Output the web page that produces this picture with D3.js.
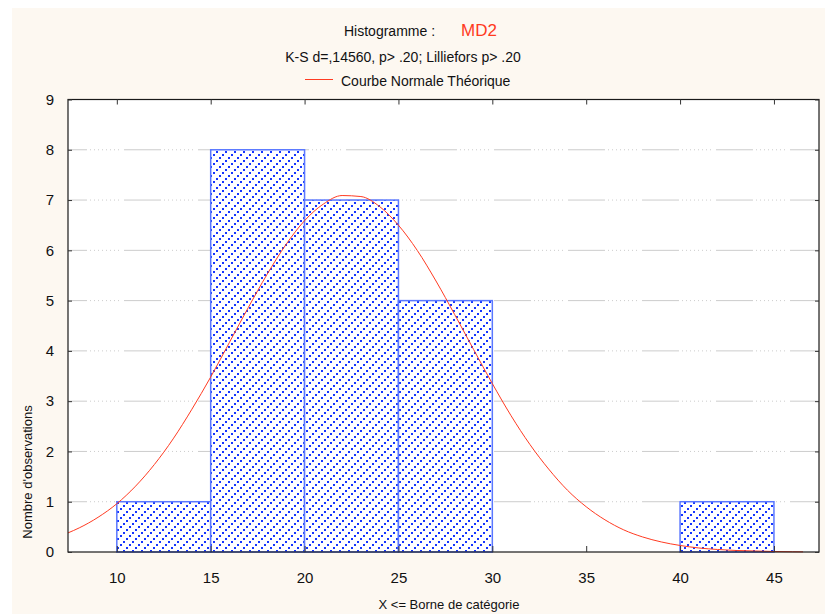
<!DOCTYPE html>
<html><head><meta charset="utf-8">
<script src="https://cdn.jsdelivr.net/npm/d3@7/dist/d3.min.js"></script>
<style>body{margin:0;background:#fff}svg{display:block}text{font-family:"Liberation Sans",Arial,sans-serif;fill:#111}</style>
</head><body>
<script>
// Histogram data
const binStarts = [10, 15, 20, 25, 30, 35, 40];
const binWidth = 5;
const counts = [1, 8, 7, 5, 0, 0, 1];
const xTicks = [10, 15, 20, 25, 30, 35, 40, 45];
const yTicks = [0, 1, 2, 3, 4, 5, 6, 7, 8, 9];
// Theoretical normal curve
const curveX = [7.4, 8, 9, 10, 11, 12, 13, 14, 15, 16, 17, 18, 19, 20, 21, 22, 23, 24, 25, 26, 27, 28, 29, 30, 31, 32, 33, 34, 35, 36, 37, 38, 39, 40, 41, 42, 43, 44, 45, 46, 46.55];
const curveY = [0.38, 0.48, 0.69, 0.96, 1.31, 1.74, 2.25, 2.84, 3.48, 4.17, 4.86, 5.52, 6.11, 6.59, 6.92, 7.09, 7.07, 6.87, 6.50, 6.00, 5.39, 4.72, 4.03, 3.35, 2.71, 2.14, 1.65, 1.23, 0.90, 0.64, 0.44, 0.30, 0.20, 0.13, 0.08, 0.05, 0.03, 0.02, 0.01, 0.005, 0.003];

const W = 825, H = 614;
const L = 68, R = 819, T = 99.5, B = 552;
const svg = d3.select("body").append("svg").attr("width", W).attr("height", H);

svg.append("rect").attr("x", 12).attr("y", 8).attr("width", W - 12).attr("height", H - 8).attr("fill", "#fdf8f1");

const defs = svg.append("defs");
const pat = defs.append("pattern").attr("id", "hatch").attr("patternUnits", "userSpaceOnUse")
  .attr("width", 9).attr("height", 9);
pat.append("rect").attr("width", 9).attr("height", 9).attr("fill", "#fff");
[[0, 7], [3, 4], [6, 1]].forEach(([px, py]) => pat.append("rect").attr("x", px).attr("y", py).attr("width", 2).attr("height", 2).attr("fill", "#1535ff"));

const x = d3.scaleLinear().domain([7.4, 47.4]).range([L, R]);
const y = d3.scaleLinear().domain([0, 9]).range([B, T]);

svg.append("rect").attr("x", L).attr("y", T).attr("width", R - L).attr("height", B - T).attr("fill", "#fff");

// grid lines
svg.append("g").selectAll("line").data(yTicks.filter(d => d > 0 && d < 9)).join("line")
  .attr("x1", L).attr("x2", R).attr("y1", d => y(d)).attr("y2", d => y(d))
  .attr("stroke", "#cccccc").attr("stroke-width", 1)
  .attr("stroke-dasharray", "37,3,1,3,1,3,1,3,1,3,1,3,1,3,1,3,1,5")
  .attr("stroke-dashoffset", 18);

// bars
svg.append("g").selectAll("rect").data(binStarts.map((s, i) => ({ s, c: counts[i] })).filter(d => d.c > 0)).join("rect")
  .attr("x", d => x(d.s)).attr("width", d => x(d.s + binWidth) - x(d.s))
  .attr("y", d => y(d.c)).attr("height", d => y(0) - y(d.c))
  .attr("fill", "url(#hatch)").attr("stroke", "#5a78ff").attr("stroke-width", 1.5);

// normal curve
svg.append("path").datum(curveX.map((v, i) => [v, curveY[i]]))
  .attr("d", d3.line().x(d => x(d[0])).y(d => y(d[1])).curve(d3.curveMonotoneX))
  .attr("fill", "none").attr("stroke", "#ff3b22").attr("stroke-width", 1);

// frame
svg.append("rect").attr("x", L).attr("y", T).attr("width", R - L).attr("height", B - T)
  .attr("fill", "none").attr("stroke", "#1a1a1a").attr("stroke-width", 1.2);

// axes
const yAxis = d3.axisLeft(y).tickValues(yTicks).tickSize(-4).tickPadding(14);
const gy = svg.append("g").attr("transform", `translate(${L},0)`).call(yAxis);
const yAxisR = d3.axisRight(y).tickValues(yTicks).tickSize(-4).tickFormat("");
const gyr = svg.append("g").attr("transform", `translate(${R},0)`).call(yAxisR);
const xAxisT = d3.axisTop(x).tickValues(xTicks).tickSize(-5).tickFormat("");
const gxt = svg.append("g").attr("transform", `translate(0,${T})`).call(xAxisT);
const xAxisB = d3.axisBottom(x).tickValues(xTicks).tickSize(-6).tickPadding(20);
const gxb = svg.append("g").attr("transform", `translate(0,${B})`).call(xAxisB);
[gy, gyr, gxt, gxb].forEach(g => {
  g.select(".domain").remove();
  g.selectAll(".tick line").attr("stroke", "#333");
  g.selectAll("text").style("font-family", '"Liberation Sans",Arial,sans-serif').style("font-size", "15px").attr("fill", "#111");
});
gxb.selectAll(".tick text").attr("dy", "0.71em");

// titles
const t1 = svg.append("text").attr("y", 36).style("font-size", "14px");
t1.append("tspan").attr("x", 344).text("Histogramme :");
t1.append("tspan").attr("x", 461).attr("fill", "#ff3a1e").style("fill", "#ff3a1e").style("font-size", "17px").text("MD2");
svg.append("text").attr("x", 403).attr("y", 62).attr("text-anchor", "middle").style("font-size", "14px")
  .text("K-S d=,14560, p> .20; Lilliefors p> .20");
svg.append("line").attr("x1", 305).attr("x2", 333).attr("y1", 79.5).attr("y2", 79.5).attr("stroke", "#ff3b22").attr("stroke-width", 1);
svg.append("text").attr("x", 341).attr("y", 86).style("font-size", "14px").text("Courbe Normale Théorique");

svg.append("text").attr("x", 449).attr("y", 609).attr("text-anchor", "middle").style("font-size", "13px").text("X <= Borne de catégorie");
svg.append("text").attr("transform", "translate(32,472) rotate(-90)").attr("text-anchor", "middle").style("font-size", "13px").text("Nombre d'observations");
</script>
</body></html>
